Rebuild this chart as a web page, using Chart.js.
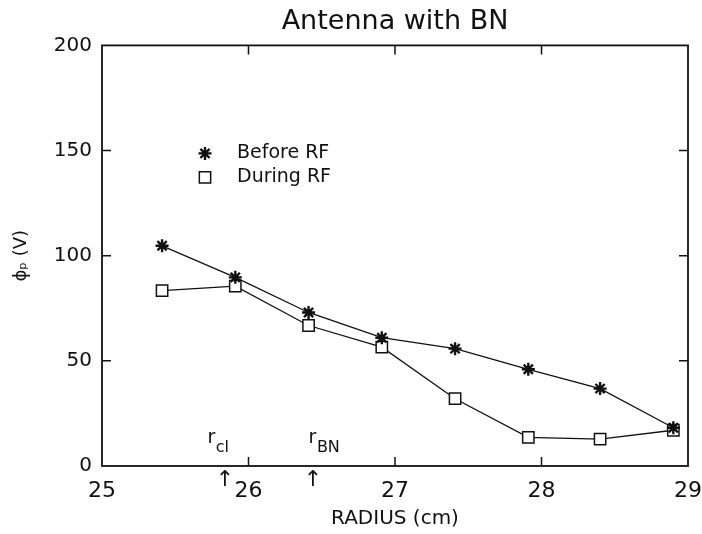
<!DOCTYPE html>
<html><head><meta charset="utf-8">
<script src="https://cdn.jsdelivr.net/npm/chart.js@4/dist/chart.umd.min.js"></script>
<style>html,body{margin:0;padding:0;background:#fff}</style>
</head><body>
<canvas id="c" width="702" height="534" style="width:702px;height:534px;display:block"></canvas>
<script>
// ---- data ----
const radius   = [25.41, 25.91, 26.41, 26.91, 27.41, 27.91, 28.40, 28.90];
const beforeRF = [104.7, 89.7, 73.0, 61.0, 55.8, 46.0, 36.8, 18.2];
const duringRF = [83.4, 85.5, 66.8, 56.5, 32.0, 13.6, 12.8, 17.0];
const xTicks   = [25, 26, 27, 28, 29];
const yTicks   = [0, 50, 100, 150, 200];
const seriesNames = ['Before RF', 'During RF'];
const markLabels  = [{main: 'r', sub: 'cl', arrowAt: 25.84, textAt: 25.72},
                     {main: 'r', sub: 'BN', arrowAt: 26.44, textAt: 26.41}];

const FONT = '"DejaVu Sans", "Liberation Sans", sans-serif';
const BLACK = '#111';

function toPts(xs, ys) { return xs.map((x, i) => ({x: x, y: ys[i]})); }

function drawMarker(ctx, style, r, bw, fill, x, y) {
  ctx.save();
  ctx.strokeStyle = BLACK; ctx.fillStyle = fill; ctx.lineWidth = bw;
  if (Chart.helpers && Chart.helpers.drawPoint) {
    Chart.helpers.drawPoint(ctx, {pointStyle: style, radius: r, borderWidth: bw, rotation: 0}, x, y);
  }
  ctx.restore();
}

const framePlugin = {
  id: 'frame',
  afterDraw(chart) {
    const {ctx, chartArea: a, scales: {x, y}} = chart;
    ctx.save();
    ctx.strokeStyle = BLACK;
    ctx.lineWidth = 1.8;
    ctx.strokeRect(a.left, a.top, a.right - a.left, a.bottom - a.top);
    ctx.lineWidth = 1.5;
    const tl = 9;
    ctx.beginPath();
    xTicks.forEach(v => {
      if (v === x.min || v === x.max) return;
      const px = x.getPixelForValue(v);
      ctx.moveTo(px, a.bottom); ctx.lineTo(px, a.bottom - tl);
      ctx.moveTo(px, a.top); ctx.lineTo(px, a.top + tl);
    });
    yTicks.forEach(v => {
      if (v === y.min || v === y.max) return;
      const py = y.getPixelForValue(v);
      ctx.moveTo(a.left, py); ctx.lineTo(a.left + tl, py);
      ctx.moveTo(a.right, py); ctx.lineTo(a.right - tl, py);
    });
    ctx.stroke();

    // legend inside the plot
    const lx = a.left + 103, ly1 = a.top + 108, ly2 = a.top + 132;
    drawMarker(ctx, 'star', 6.5, 2.4, BLACK, lx, ly1);
    drawMarker(ctx, 'rect', 8, 1.5, '#fff', lx, ly2);
    ctx.fillStyle = BLACK;
    ctx.font = '19px ' + FONT;
    ctx.textBaseline = 'middle';
    ctx.textAlign = 'left';
    ctx.fillText(seriesNames[0], lx + 32, ly1);
    ctx.fillText(seriesNames[1], lx + 32, ly2);

    // r_cl, r_BN labels with arrows below the axis
    const y0 = y.getPixelForValue(0);
    markLabels.forEach(m => {
      const tx = x.getPixelForValue(m.textAt);
      ctx.textBaseline = 'alphabetic';
      ctx.font = '19px ' + FONT;
      ctx.fillText(m.main, tx, y0 - 23);
      const w = ctx.measureText(m.main).width;
      ctx.font = '16px ' + FONT;
      ctx.fillText(m.sub, tx + w + 0.5, y0 - 14);
      const ax = x.getPixelForValue(m.arrowAt);
      ctx.font = '22px ' + FONT;
      ctx.textAlign = 'center';
      ctx.textBaseline = 'middle';
      ctx.fillText('\u2191', ax, y0 + 14);
      ctx.textAlign = 'left';
    });
    ctx.restore();
  }
};

new Chart(document.getElementById('c'), {
  type: 'line',
  data: {
    datasets: [
      {label: seriesNames[0], data: toPts(radius, beforeRF), borderColor: BLACK, borderWidth: 1.3,
       pointStyle: 'star', pointRadius: 6.5, pointBorderWidth: 2.4, pointBorderColor: BLACK,
       pointBackgroundColor: BLACK, tension: 0, fill: false},
      {label: seriesNames[1], data: toPts(radius, duringRF), borderColor: BLACK, borderWidth: 1.3,
       pointStyle: 'rect', pointRadius: 8, pointBorderWidth: 1.5, pointBorderColor: BLACK,
       pointBackgroundColor: '#fff', tension: 0, fill: false}
    ]
  },
  options: {
    responsive: false, animation: false, devicePixelRatio: 1,
    layout: {padding: {left: 0, right: 0, top: 0, bottom: 0}},
    plugins: {
      legend: {display: false}, tooltip: {enabled: false},
      title: {display: true, text: 'Antenna with BN', fullSize: false, color: BLACK,
              font: {family: FONT, size: 27, weight: 'normal', lineHeight: 1.2},
              padding: {top: 6, bottom: 7}}
    },
    scales: {
      x: {
        type: 'linear', min: 25, max: 29,
        afterBuildTicks: s => { s.ticks = xTicks.map(v => ({value: v})); },
        ticks: {color: BLACK, font: {family: FONT, size: 22}, padding: 12, maxRotation: 0, autoSkip: false},
        grid: {display: false, drawTicks: false}, border: {display: false},
        title: {display: true, text: 'RADIUS (cm)', color: BLACK,
                font: {family: FONT, size: 20, lineHeight: 1.2}, padding: {top: 0, bottom: 3}},
        afterFit: s => { s.height = 68; s.paddingRight = 14; s.paddingLeft = 0; }
      },
      y: {
        type: 'linear', min: 0, max: 200,
        afterBuildTicks: s => { s.ticks = yTicks.map(v => ({value: v})); },
        ticks: {color: BLACK, font: {family: FONT, size: 20}, padding: 10, autoSkip: false},
        grid: {display: false, drawTicks: false}, border: {display: false},
        title: {display: true, text: 'ϕₚ (V)', color: BLACK,
                font: {family: FONT, size: 18, lineHeight: 1.2}, padding: {top: 11, bottom: 0}},
        afterFit: s => { s.width = 102; s.paddingTop = 0; s.paddingBottom = 0; }
      }
    }
  },
  plugins: [framePlugin]
});
</script>
</body></html>
